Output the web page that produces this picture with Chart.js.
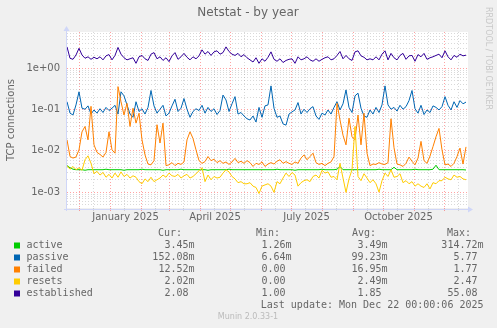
<!DOCTYPE html>
<html>
<head>
<meta charset="utf-8">
<title>Netstat - by year</title>
<script src="https://cdn.jsdelivr.net/npm/chart.js@4/dist/chart.umd.min.js"></script>
<style>
  html, body { margin: 0; padding: 0; background: #f0f0f0; }
  canvas { display: block; }
</style>
</head>
<body>
<canvas id="netstatChart" width="497" height="328"></canvas>
<script>
// one sample every 3 days, day 0 = 19 Nov 2024
const STEP_DAYS = 3;
const START = Date.UTC(2024, 10, 19);

const seriesNames = ['active', 'passive', 'failed', 'resets', 'established'];
const seriesColors = ['#00cc00', '#0066b3', '#ff8000', '#ffcc00', '#330099'];

const active = [
  0.0044, 0.0039, 0.0036, 0.0035, 0.0035, 0.0035, 0.0034, 0.0035, 0.0035, 0.0035,
  0.0035, 0.0035, 0.0035, 0.0036, 0.0035, 0.0035, 0.0035, 0.0035, 0.0035, 0.0034,
  0.0035, 0.0035, 0.0035, 0.0035, 0.0035, 0.0036, 0.0035, 0.0035, 0.0035, 0.0035,
  0.0035, 0.0035, 0.0034, 0.0035, 0.0035, 0.0035, 0.0035, 0.0035, 0.0036, 0.0035,
  0.0035, 0.0035, 0.0035, 0.0035, 0.0035, 0.0035, 0.0035, 0.0034, 0.0035, 0.0035,
  0.0035, 0.0035, 0.0035, 0.0035, 0.0036, 0.0035, 0.0035, 0.0035, 0.0035, 0.0035,
  0.0035, 0.0035, 0.0035, 0.0035, 0.0035, 0.0035, 0.0035, 0.0035, 0.0035, 0.0035,
  0.0036, 0.0035, 0.0035, 0.0035, 0.0035, 0.0035, 0.0034, 0.0035, 0.0035, 0.0035,
  0.0035, 0.0035, 0.0035, 0.0035, 0.0035, 0.0036, 0.0035, 0.0035, 0.0035, 0.0035,
  0.0036, 0.0042, 0.0035, 0.0035, 0.0035, 0.0035, 0.0035, 0.0035, 0.0035, 0.0035,
  0.0035, 0.0035, 0.0035, 0.0035, 0.0036, 0.0035, 0.0035, 0.0035, 0.0035, 0.0040,
  0.0035, 0.0035, 0.0035, 0.0035, 0.0035, 0.0035, 0.0036, 0.0035, 0.0035, 0.0035,
  0.0035, 0.0035, 0.0036, 0.0045, 0.0035, 0.0035, 0.0035, 0.0035, 0.0035, 0.0035,
  0.0035, 0.0035, 0.0035, 0.00345
];

const passive = [
  0.155, 0.082, 0.074, 0.13, 0.27, 0.108, 0.102, 0.123, 0.078, 0.098,
  0.082, 0.105, 0.085, 0.113, 0.095, 0.108, 0.127, 0.078, 0.27, 0.215,
  0.13, 0.078, 0.065, 0.155, 0.09, 0.105, 0.078, 0.113, 0.29, 0.123,
  0.082, 0.102, 0.127, 0.07, 0.082, 0.123, 0.178, 0.09, 0.108, 0.185,
  0.102, 0.065, 0.09, 0.105, 0.095, 0.127, 0.082, 0.113, 0.09, 0.105,
  0.076, 0.095, 0.225, 0.171, 0.09, 0.138, 0.206, 0.078, 0.085, 0.07,
  0.06, 0.056, 0.07, 0.05, 0.113, 0.065, 0.123,
  0.13, 0.375, 0.108, 0.065, 0.07, 0.045, 0.042, 0.078, 0.088, 0.098,
  0.148, 0.078, 0.102, 0.085, 0.105, 0.118, 0.07, 0.058, 0.082, 0.074,
  0.098, 0.078, 0.113, 0.155, 0.098, 0.138, 0.3, 0.113, 0.085, 0.215,
  0.25, 0.108, 0.07, 0.065, 0.098, 0.078, 0.113, 0.085, 0.13, 0.375,
  0.13, 0.102, 0.113, 0.092, 0.127, 0.102, 0.118, 0.165, 0.29, 0.105,
  0.082, 0.127, 0.076, 0.098, 0.085, 0.123, 0.113, 0.098, 0.118, 0.206,
  0.127, 0.098, 0.155, 0.113, 0.165, 0.138, 0.152
];

const failed = [
  0.0185, 0.0073, 0.0067, 0.0071, 0.0106, 0.029, 0.039, 0.0185, 0.12, 0.014,
  0.0092, 0.0082, 0.0071, 0.0092, 0.029, 0.0106, 0.0088, 0.36, 0.155, 0.074,
  0.142, 0.039, 0.108, 0.047, 0.0815, 0.0185, 0.008, 0.0048, 0.0046, 0.0058,
  0.043, 0.0155, 0.047, 0.0044, 0.0046, 0.0052, 0.0044, 0.005, 0.0047, 0.0054,
  0.0185, 0.029, 0.02, 0.0106, 0.0058, 0.005, 0.0055, 0.0073, 0.0058, 0.0063,
  0.0052, 0.0058, 0.005, 0.0054, 0.0047, 0.0054, 0.0066, 0.0052, 0.0056, 0.005,
  0.0058, 0.0052, 0.0042, 0.005, 0.0047, 0.0054, 0.0042,
  0.0048, 0.0052, 0.0048, 0.0056, 0.0061, 0.005, 0.0055, 0.005, 0.0047, 0.0054,
  0.005, 0.0067, 0.008, 0.0061, 0.0073, 0.0088, 0.0052, 0.0047, 0.005, 0.0044,
  0.005, 0.0054, 0.0073, 0.142, 0.056, 0.024, 0.014, 0.062, 0.022, 0.0185,
  0.074, 0.014, 0.0815, 0.0088, 0.0044, 0.0048, 0.0047, 0.0052, 0.0048, 0.0047,
  0.0052, 0.06, 0.012, 0.0048, 0.0046, 0.0042, 0.005, 0.0071, 0.0056, 0.0046,
  0.0067, 0.017, 0.0058, 0.005, 0.0075, 0.0127, 0.022, 0.035, 0.0106, 0.0046,
  0.0048, 0.0042, 0.005, 0.0073, 0.0117, 0.0048, 0.0125
];

const resets = [
  0.0044, 0.0036, 0.0042, 0.0035, 0.0039, 0.0034, 0.0061, 0.0076, 0.005, 0.0028,
  0.0032, 0.0026, 0.003, 0.0023, 0.0027, 0.0022, 0.0029, 0.0023, 0.0031, 0.0024,
  0.0027, 0.0022, 0.0025, 0.0023, 0.0018, 0.0016, 0.0021, 0.0018, 0.0023, 0.0018,
  0.002, 0.0022, 0.0026, 0.0023, 0.0029, 0.0025, 0.0024, 0.0027, 0.0022, 0.0025,
  0.0027, 0.0022, 0.0024, 0.0028, 0.0033, 0.0039, 0.0018, 0.0026, 0.002, 0.0024,
  0.0022, 0.0023, 0.0029, 0.0035, 0.0031, 0.0024, 0.0021, 0.0017, 0.0018, 0.0016,
  0.0016, 0.0017, 0.0014, 0.0013, 0.00093, 0.0014, 0.0015,
  0.0016, 0.0014, 0.00099, 0.0018, 0.0016, 0.0022, 0.0029, 0.0024, 0.003, 0.0026,
  0.0014, 0.0017, 0.0019, 0.002, 0.0018, 0.0024, 0.0026, 0.0022, 0.0034, 0.0029,
  0.0031, 0.0023, 0.0024, 0.002, 0.005, 0.0022, 0.00099, 0.0021, 0.0035, 0.039,
  0.0024, 0.0019, 0.0028, 0.0022, 0.0017, 0.002, 0.0016, 0.001, 0.0019, 0.0029,
  0.0024, 0.0035, 0.0023, 0.0024, 0.0028, 0.0017, 0.0019, 0.0016, 0.0018, 0.0014,
  0.0016, 0.0014, 0.0013, 0.0016, 0.0012, 0.0017, 0.0016, 0.0019, 0.0019, 0.0023,
  0.0021, 0.002, 0.0026, 0.0023, 0.0024, 0.0021, 0.002
];

const established = [
  3.3, 1.75, 1.65, 2.1, 3.05, 2.1, 1.75, 1.9, 1.65, 1.85,
  1.7, 1.9, 1.6, 2.0, 2.15, 1.6, 2.05, 3.2, 2.2, 1.8,
  1.6, 1.7, 1.8, 1.32, 1.9, 2.05, 1.7, 1.55, 2.2, 2.4,
  1.7, 1.9, 1.55, 1.8, 1.45, 2.0, 2.4, 1.65, 1.9, 2.3,
  1.85, 1.6, 1.9, 1.7, 2.0, 2.8, 2.2, 2.55, 2.05, 2.5,
  2.65, 2.2, 2.4, 3.3, 2.55, 2.2, 2.05, 2.3, 1.9, 2.15,
  1.8, 1.6, 1.42, 1.8, 1.32, 1.7, 1.48,
  1.85, 2.5, 1.65, 1.48, 1.7, 1.38, 1.55, 1.65, 1.7, 1.32,
  1.9, 1.6, 1.7, 1.9, 1.6, 1.48, 1.7, 1.48, 1.65, 1.8,
  1.9, 1.6, 1.7, 2.05, 2.55, 1.7, 2.05, 1.7, 1.55, 2.5,
  2.65, 2.0, 1.85, 1.6, 1.7, 1.6, 1.9, 1.6, 2.2, 2.65,
  1.6, 2.3, 1.8, 1.6, 2.05, 2.3, 1.65, 2.0, 2.05, 1.48,
  2.15, 1.9, 2.3, 1.65, 1.8, 1.9, 2.05, 2.2, 1.8, 2.65,
  1.9, 1.6, 2.05, 1.85, 2.2, 2.0, 2.08
];

// legend table
const curValues = ['3.45m', '152.08m', '12.52m', '2.02m', '2.08 '];
const minValues = ['1.26m', '6.64m', '0.00 ', '0.00 ', '1.00 '];
const avgValues = ['3.49m', '99.23m', '16.95m', '2.49m', '1.85 '];
const maxValues = ['314.72m', '5.77 ', '1.77 ', '2.47 ', '55.08 '];
const lastUpdate = 'Last update: Mon Dec 22 00:00:06 2025';

// axes
const Y_MIN = 4.14e-4;
const Y_MAX = 7.57;
const X_MAX = 401;
const monthLabels = [
  { year: 2025, month: 0, text: 'January 2025' },
  { year: 2025, month: 3, text: 'April 2025' },
  { year: 2025, month: 6, text: 'July 2025' },
  { year: 2025, month: 9, text: 'October 2025' }
];

const FONT = '"DejaVu Sans", sans-serif';
const MONO = '"DejaVu Sans Mono", monospace';
const TEXT_COLOR = '#666666';
const AXIS_COLOR = '#cfd6f8';
const MAJOR_GRID = 'rgba(255, 0, 0, 0.36)';
const MINOR_GRID = 'rgba(128, 128, 128, 0.3)';

function dayOf(y, m, d) {
  return (Date.UTC(y, m, d) - START) / 86400000;
}

function buildXTicks() {
  const ticks = [];
  for (let k = 0; k < 13; k++) {
    const y = 2024 + Math.floor((11 + k) / 12);
    const m = (11 + k) % 12;
    ticks.push({ value: dayOf(y, m, 1), kind: 'major' });
    ticks.push({ value: dayOf(y, m, 15), kind: 'minor' });
  }
  monthLabels.forEach(l => {
    const mid = (dayOf(l.year, l.month, 1) + dayOf(l.year, l.month + 1, 1)) / 2;
    ticks.push({ value: mid, kind: 'label', text: l.text });
  });
  return ticks.filter(t => t.value >= 0 && t.value <= X_MAX).sort((a, b) => a.value - b.value);
}

function buildYTicks() {
  const ticks = [];
  for (let e = -4; e <= 0; e++) {
    for (let m = 1; m <= 9; m++) {
      const v = m * Math.pow(10, e);
      if (v >= Y_MIN && v <= Y_MAX) ticks.push({ value: v, kind: m === 1 ? 'major' : 'minor' });
    }
  }
  return ticks;
}

function gridColor(kind) {
  if (kind === 'major') return MAJOR_GRID;
  if (kind === 'minor') return MINOR_GRID;
  return 'rgba(0,0,0,0)';
}

function expLabel(v) {
  const e = Math.round(Math.log10(v));
  return '1e' + (e < 0 ? '-' : '+') + String(Math.abs(e)).padStart(2, '0');
}

const seriesValues = [active, passive, failed, resets, established];

const datasets = seriesValues.map((values, s) => ({
  label: seriesNames[s],
  data: values.map((v, i) => ({ x: i * STEP_DAYS, y: v })),
  borderColor: seriesColors[s],
  borderWidth: 1,
  pointRadius: 0,
  tension: 0,
  fill: false,
  order: 5 - s
}));

const muninFrame = {
  id: 'muninFrame',
  beforeDraw(chart) {
    const { ctx, chartArea: a } = chart;
    ctx.save();
    ctx.fillStyle = '#f0f0f0';
    ctx.fillRect(0, 0, chart.width, chart.height);
    ctx.fillStyle = '#ffffff';
    ctx.fillRect(a.left, a.top, a.right - a.left, a.bottom - a.top);
    ctx.restore();
  },
  afterDraw(chart) {
    const { ctx, chartArea: a } = chart;
    ctx.save();

    // axes with arrows
    ctx.strokeStyle = AXIS_COLOR;
    ctx.fillStyle = AXIS_COLOR;
    ctx.lineWidth = 1;
    ctx.beginPath();
    ctx.moveTo(a.left - 0.5, a.bottom + 3);
    ctx.lineTo(a.left - 0.5, a.top - 2);
    ctx.moveTo(a.left - 3, a.bottom + 1.5);
    ctx.lineTo(a.right + 2, a.bottom + 1.5);
    ctx.stroke();
    ctx.beginPath();
    ctx.moveTo(a.left - 0.5, a.top - 6);
    ctx.lineTo(a.left - 3.5, a.top - 1);
    ctx.lineTo(a.left + 2.5, a.top - 1);
    ctx.closePath();
    ctx.fill();
    ctx.beginPath();
    ctx.moveTo(a.right + 5, a.bottom + 1.5);
    ctx.lineTo(a.right, a.bottom - 1.5);
    ctx.lineTo(a.right, a.bottom + 4.5);
    ctx.closePath();
    ctx.fill();

    // title and axis title
    ctx.fillStyle = TEXT_COLOR;
    ctx.font = '12px ' + FONT;
    ctx.textAlign = 'center';
    ctx.textBaseline = 'middle';
    ctx.fillText('Netstat - by year', 248, 13);

    ctx.save();
    ctx.font = '10px ' + FONT;
    ctx.translate(11, 120);
    ctx.rotate(-Math.PI / 2);
    ctx.fillText('TCP connections', 0, 0);
    ctx.restore();

    // vertical credit on the right
    ctx.save();
    ctx.fillStyle = '#c8c8c8';
    ctx.font = '8px ' + FONT;
    ctx.textAlign = 'left';
    ctx.textBaseline = 'alphabetic';
    ctx.translate(486, 7);
    ctx.rotate(Math.PI / 2);
    ctx.fillText('RRDTOOL / TOBI OETIKER', 0, 0);
    ctx.restore();

    // legend table
    ctx.font = '10px ' + MONO;
    ctx.fillStyle = TEXT_COLOR;
    ctx.textBaseline = 'middle';
    ctx.textAlign = 'left';
    ctx.fillText('Cur:', 158, 233);
    ctx.fillText('Min:', 256, 233);
    ctx.fillText('Avg:', 352, 233);
    ctx.fillText('Max:', 447, 233);

    seriesNames.forEach((name, i) => {
      const y = 245.5 + i * 12;
      ctx.fillStyle = seriesColors[i];
      ctx.fillRect(14, y - 3, 6, 6);
      ctx.fillStyle = TEXT_COLOR;
      ctx.textAlign = 'left';
      ctx.fillText(name, 26.5, y);
      ctx.textAlign = 'right';
      ctx.fillText(curValues[i], 194.5, y);
      ctx.fillText(minValues[i], 291.5, y);
      ctx.fillText(avgValues[i], 387.5, y);
      ctx.fillText(maxValues[i], 483.5, y);
    });
    ctx.textAlign = 'right';
    ctx.fillText(lastUpdate, 483.5, 305.5);

    ctx.fillStyle = '#bbbbbb';
    ctx.font = '8px ' + FONT;
    ctx.textAlign = 'center';
    ctx.fillText('Munin 2.0.33-1', 248, 317);

    ctx.restore();
  }
};

new Chart(document.getElementById('netstatChart').getContext('2d'), {
  type: 'line',
  data: { datasets },
  options: {
    responsive: false,
    animation: false,
    events: [],
    layout: { padding: { top: 32, right: 29, left: 0, bottom: 0 } },
    plugins: {
      legend: { display: false },
      tooltip: { enabled: false },
      title: { display: false }
    },
    scales: {
      x: {
        type: 'linear',
        min: 0,
        max: X_MAX,
        afterBuildTicks: scale => { scale.ticks = buildXTicks(); },
        afterFit: scale => { scale.height = 120; },
        grid: {
          color: c => gridColor(c.tick && c.tick.kind),
          tickColor: c => gridColor(c.tick && c.tick.kind),
          lineWidth: 1,
          drawTicks: true,
          tickLength: 3
        },
        border: { display: false, dash: [1, 2] },
        ticks: {
          autoSkip: false,
          maxRotation: 0,
          padding: 0,
          color: TEXT_COLOR,
          font: { family: FONT, size: 10 },
          callback: (v, i, ticks) => ticks[i].text || ''
        }
      },
      y: {
        type: 'logarithmic',
        min: Y_MIN,
        max: Y_MAX,
        afterBuildTicks: scale => { scale.ticks = buildYTicks(); },
        afterFit: scale => { scale.width = 67; },
        grid: {
          color: c => gridColor(c.tick && c.tick.kind),
          lineWidth: 1,
          drawTicks: false
        },
        border: { display: false, dash: [1, 2] },
        ticks: {
          autoSkip: false,
          padding: 7,
          color: TEXT_COLOR,
          font: { family: FONT, size: 10 },
          callback: (v, i, ticks) => ticks[i].kind === 'major' ? expLabel(v) : ''
        }
      }
    }
  },
  plugins: [muninFrame]
});
</script>
</body>
</html>
